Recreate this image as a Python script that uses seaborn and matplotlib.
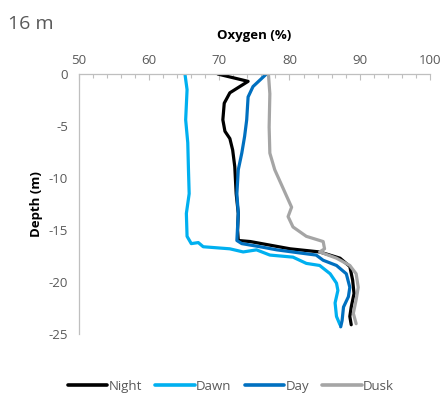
import numpy as np
import pandas as pd
import seaborn as sns
import matplotlib.pyplot as plt
from matplotlib.ticker import MultipleLocator

sns.set_theme(style="white")
plt.rcParams['font.family'] = ['Open Sans', 'DejaVu Sans']

# Oxygen saturation (%) profiles at a 16 m station, by time of day
night_oxy = [69.8, 74.1, 71.5, 70.7, 70.5, 70.8, 71.5, 71.9, 72.2, 72.4, 72.7, 72.6, 72.7,
             74.4, 80.1, 84.3, 87.2, 88.6, 89.0, 89.2, 88.8, 88.6, 88.8]
night_dep = [0.0, -0.7, -1.8, -2.8, -4.4, -5.5, -6.2, -7.3, -8.9, -11.5, -13.4, -15.0, -16.0,
             -16.1, -16.8, -17.1, -17.7, -18.5, -19.8, -21.1, -22.4, -23.3, -24.1]

dawn_oxy = [65.1, 65.4, 65.2, 65.5, 65.6, 65.7, 65.3, 65.4, 66.0, 67.0, 67.7, 71.5, 73.4,
            75.3, 77.2, 80.5, 82.4, 84.3, 85.8, 86.7, 86.9, 86.5, 86.7, 87.2]
dawn_dep = [0.0, -1.5, -4.4, -6.6, -9.2, -11.5, -13.4, -15.6, -16.3, -16.2, -16.6, -16.8, -17.1,
            -16.9, -17.4, -17.6, -18.2, -18.4, -19.2, -20.1, -20.8, -22.0, -23.3, -24.1]

day_oxy = [76.7, 74.8, 74.1, 73.9, 73.6, 73.2, 72.7, 72.5, 72.7, 72.5, 73.2, 75.8, 78.2,
           81.5, 83.8, 84.8, 86.7, 88.1, 88.6, 88.4, 87.7, 87.5, 87.3]
day_dep = [0.0, -1.2, -2.2, -4.4, -6.0, -7.6, -9.2, -11.5, -13.4, -16.0, -16.3, -16.6, -16.9,
           -17.2, -17.4, -17.9, -18.4, -19.2, -20.5, -21.4, -22.4, -23.7, -24.3]

dusk_oxy = [77.0, 77.2, 77.1, 77.2, 77.9, 79.1, 80.3, 79.8, 80.5, 82.4, 84.8, 85.0, 84.3,
            86.7, 88.6, 89.5, 89.8, 89.5, 89.1, 89.5]
dusk_dep = [0.0, -1.9, -5.1, -7.6, -9.2, -11.0, -12.8, -13.7, -14.7, -15.6, -16.1, -16.8, -17.1,
            -17.7, -18.4, -19.2, -20.5, -21.7, -23.0, -24.0]

periods = ["Night", "Dawn", "Day", "Dusk"]
colors = ["#000000", "#00B0F0", "#0070C0", "#A5A5A5"]

frames = []
for name, ox, dp in zip(periods, [night_oxy, dawn_oxy, day_oxy, dusk_oxy],
                        [night_dep, dawn_dep, day_dep, dusk_dep]):
    frames.append(pd.DataFrame({"Oxygen": ox, "Depth": dp, "Period": name}))
df = pd.concat(frames, ignore_index=True)

fig = plt.figure(figsize=(4.44, 3.94), dpi=100)
ax = fig.add_axes([0.178, 0.152, 0.79, 0.66])

sns.lineplot(data=df, x="Oxygen", y="Depth", hue="Period", hue_order=periods,
             palette=colors, sort=False, estimator=None, linewidth=2.3,
             ax=ax, legend=False)

ax.set_xlim(50, 100)
ax.set_ylim(-25, 0)
ax.xaxis.set_major_locator(MultipleLocator(10))
ax.xaxis.set_minor_locator(MultipleLocator(2))
ax.yaxis.set_major_locator(MultipleLocator(5))
ax.yaxis.set_minor_locator(MultipleLocator(1))
ax.xaxis.tick_top()
ax.xaxis.set_label_position("top")

grey = "#595959"
axis_col = "#BFBFBF"
for s in ["right", "bottom"]:
    ax.spines[s].set_visible(False)
for s in ["top", "left"]:
    ax.spines[s].set_color(axis_col)
    ax.spines[s].set_linewidth(0.9)

ax.tick_params(axis="x", which="both", direction="in", color=axis_col, width=0.8,
               labelsize=9.5, labelcolor=grey, pad=5)
ax.tick_params(axis="x", which="major", length=4)
ax.tick_params(axis="x", which="minor", length=3)
ax.tick_params(axis="y", which="both", direction="out", color=axis_col, width=0.8,
               labelsize=9.5, labelcolor=grey, pad=4)
ax.tick_params(axis="y", which="major", length=4)
ax.tick_params(axis="y", which="minor", length=3)
ax.set_yticks([0, -5, -10, -15, -20, -25])
ax.set_yticklabels(["0", "-5", "-10", "-15", "-20", "-25"])

ax.set_xlabel("Oxygen (%)", fontsize=9.5, fontweight="bold", color="black", labelpad=11)
ax.set_ylabel("Depth (m)", fontsize=9.5, fontweight="bold", color="black", labelpad=4)

fig.text(0.018, 0.94, "16 m", fontsize=14, color=grey, ha="left", va="center")

handles = [plt.Line2D([0], [0], color=c, lw=2.6) for c in colors]
fig.legend(handles, periods, loc="center", bbox_to_anchor=(0.52, 0.02), ncol=4,
           frameon=False, fontsize=9.5, handlelength=3.0, handletextpad=0.1,
           columnspacing=1.0, labelcolor=grey)

fig.savefig("out.png", dpi=100)
